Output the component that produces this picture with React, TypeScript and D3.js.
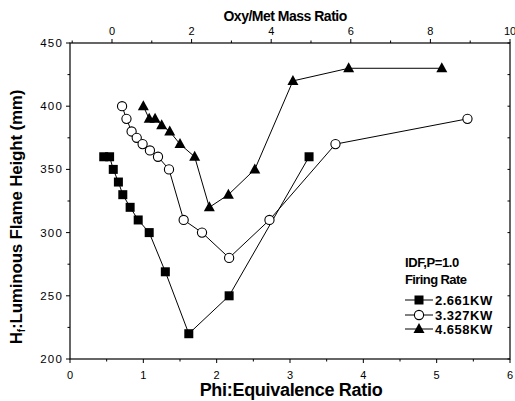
import React from "react";
import * as d3 from "d3";

const sqPhi = [0.46, 0.54, 0.59, 0.66, 0.72, 0.82, 0.93, 1.08, 1.3, 1.62, 2.17, 3.26];
const sqH = [360, 360, 350, 340, 330, 320, 310, 300, 269, 220, 250, 360];

const ciPhi = [0.71, 0.77, 0.84, 0.91, 0.99, 1.09, 1.2, 1.35, 1.55, 1.8, 2.17, 2.72, 3.62, 5.42];
const ciH = [400, 390, 380, 375, 370, 365, 360, 350, 310, 300, 280, 310, 370, 390];

const trPhi = [1.0, 1.08, 1.16, 1.25, 1.36, 1.5, 1.7, 1.9, 2.16, 2.52, 3.04, 3.8, 5.07];
const trH = [400, 390, 390, 385, 380, 370, 360, 320, 330, 350, 420, 430, 430];

const xTicks = [0, 1, 2, 3, 4, 5, 6];
const topTicks = [0, 2, 4, 6, 8, 10];
const yTicks = [200, 250, 300, 350, 400, 450];
const legendLabels = ["2.661KW", "3.327KW", "4.658KW"];

const L = 70, R = 510, T = 43, B = 359;
const font = "'Liberation Sans', Arial, sans-serif";

export default function App() {
  const x = d3.scaleLinear().domain([0, 6]).range([L, R]);
  const xTop = d3.scaleLinear().domain([-1.055, 10]).range([L, R]);
  const y = d3.scaleLinear().domain([200, 450]).range([B, T]);
  const line = d3.line<[number, number]>().x(d => x(d[0])).y(d => y(d[1]));
  const sq = sqPhi.map((p, i) => [p, sqH[i]] as [number, number]);
  const ci = ciPhi.map((p, i) => [p, ciH[i]] as [number, number]);
  const tr = trPhi.map((p, i) => [p, trH[i]] as [number, number]);

  const square = (cx: number, cy: number, k: string) => (
    <rect key={k} x={cx - 4.5} y={cy - 4.5} width={9} height={9} fill="#000" />
  );
  const circle = (cx: number, cy: number, k: string) => (
    <circle key={k} cx={cx} cy={cy} r={4.6} fill="#fff" stroke="#000" strokeWidth={1.1} />
  );
  const tri = (cx: number, cy: number, k: string) => (
    <path key={k} d={`M${cx},${cy - 6} L${cx + 5.5},${cy + 4} L${cx - 5.5},${cy + 4} Z`} fill="#000" />
  );

  const xMinor = d3.range(0, 6.01, 0.5);
  const topMinor = d3.range(-1, 10.01, 1);
  const yMinor = d3.range(200, 451, 25);

  const legY = [300, 315, 329];
  const markers = [square, circle, tri];

  return (
    <svg width={515} height={401} style={{ position: "absolute", left: 0, top: 0, background: "#fff" }} fontFamily={font}>
      <rect x={0} y={0} width={515} height={401} fill="#fff" />
      {/* frame */}
      <rect x={L} y={T} width={R - L} height={B - T} fill="none" stroke="#000" strokeWidth={1.2} />
      {/* bottom ticks */}
      {xMinor.map(v => (
        <line key={"bx" + v} x1={x(v)} x2={x(v)} y1={B} y2={B + (Number.isInteger(v) ? 4 : 2.5)} stroke="#000" />
      ))}
      {xTicks.map(v => (
        <text key={"bt" + v} x={x(v)} y={B + 20} fontSize={11} textAnchor="middle">{v}</text>
      ))}
      {/* top ticks */}
      {topMinor.map(v => (
        <line key={"tx" + v} x1={xTop(v)} x2={xTop(v)} y1={T} y2={T - (v % 2 === 0 ? 4 : 2.5)} stroke="#000" />
      ))}
      {topTicks.map(v => (
        <text key={"tt" + v} x={xTop(v)} y={T - 8} fontSize={11} textAnchor="middle">{v}</text>
      ))}
      {/* y ticks */}
      {yMinor.map(v => (
        <g key={"y" + v}>
          <line x1={L} x2={L - (v % 50 === 0 ? 4 : 2.5)} y1={y(v)} y2={y(v)} stroke="#000" />
          <line x1={R} x2={R - 2.5} y1={y(v)} y2={y(v)} stroke="#000" />
        </g>
      ))}
      {yTicks.map(v => (
        <text key={"yt" + v} x={L - 7} y={y(v) + 4} fontSize={11.5} letterSpacing={1.2} textAnchor="end">{v}</text>
      ))}
      {/* titles */}
      <text x={291} y={396} fontSize={18} fontWeight="bold" textAnchor="middle" letterSpacing={-0.3}>Phi:Equivalence Ratio</text>
      <text x={xTop(4.35)} y={21} fontSize={14} fontWeight="bold" textAnchor="middle" letterSpacing={-0.5}>Oxy/Met Mass Ratio</text>
      <text transform={`translate(22,217) rotate(-90)`} fontSize={17} fontWeight="bold" textAnchor="middle" letterSpacing={-0.2}>
        H<tspan fontSize={10} dy={3}>f</tspan><tspan dy={-3}>:Luminous Flame Height (mm)</tspan>
      </text>
      {/* series */}
      <path d={line(sq) || ""} fill="none" stroke="#000" strokeWidth={1} />
      <path d={line(ci) || ""} fill="none" stroke="#000" strokeWidth={1} />
      <path d={line(tr) || ""} fill="none" stroke="#000" strokeWidth={1} />
      {sq.map((d, i) => square(x(d[0]), y(d[1]), "s" + i))}
      {ci.map((d, i) => circle(x(d[0]), y(d[1]), "c" + i))}
      {tr.map((d, i) => tri(x(d[0]), y(d[1]), "t" + i))}
      {/* legend */}
      <text x={405} y={267} fontSize={13} fontWeight="bold" letterSpacing={-0.4}>IDF,P=1.0</text>
      <text x={405} y={284} fontSize={13} fontWeight="bold" letterSpacing={-0.6}>Firing Rate</text>
      {legendLabels.map((lab, i) => (
        <g key={"l" + i}>
          <line x1={405} x2={433} y1={legY[i]} y2={legY[i]} stroke="#000" />
          {markers[i](419, legY[i], "lm" + i)}
          <text x={435} y={legY[i] + 4.5} fontSize={13} fontWeight="bold" letterSpacing={0.5}>{lab}</text>
        </g>
      ))}
    </svg>
  );
}
